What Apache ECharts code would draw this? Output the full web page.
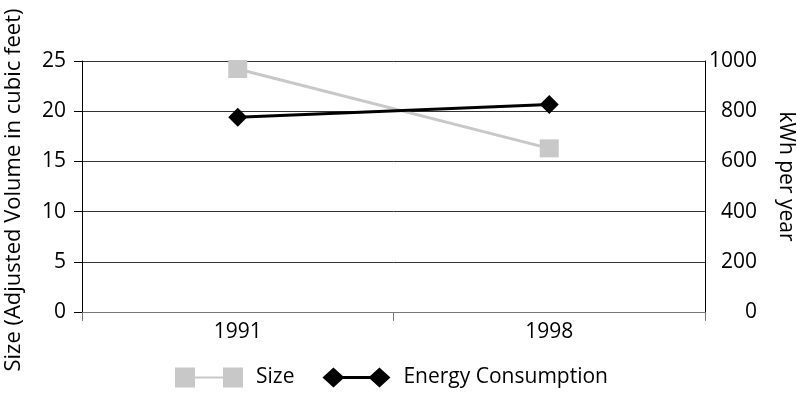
<!DOCTYPE html>
<html>
<head>
<meta charset="utf-8">
<script src="https://cdn.jsdelivr.net/npm/echarts@6/dist/echarts.min.js"></script>
<style>html,body{margin:0;padding:0;background:#fff}#c{width:797px;height:393px}</style>
</head>
<body>
<div id="c"></div>
<script>
var categories = ['1991', '1998'];
var sizeValues = [24.2, 16.3];
var energyValues = [776, 827];
var leftTicks = {min: 0, max: 25, interval: 5};
var rightTicks = {min: 0, max: 1000, interval: 200};

var FONT = 'Open Sans';
var FS = 21;
var chart = echarts.init(document.getElementById('c'));
chart.setOption({
  animation: false,
  backgroundColor: '#fff',
  textStyle: {fontFamily: FONT, color: '#000'},
  grid: {left: 82, right: 92, top: 61, bottom: 81, containLabel: false, outerBoundsMode: 'none'},
  legend: {
    left: 175, top: 367, padding: 0, itemWidth: 68, itemHeight: 20, itemGap: 28,
    symbolKeepAspect: false,
    textStyle: {fontFamily: FONT, fontSize: FS, color: '#000', padding: [0, 0, 0, 8]},
    data: [
      {name: 'Size', icon: 'path://M0 0 L20 0 L20 20 L0 20 Z M20 9 L48 9 L48 11 L20 11 Z M48 0 L68 0 L68 20 L48 20 Z'},
      {name: 'Energy Consumption', icon: 'path://M0 10 L11 0 L22 10 L11 20 Z M11 8.5 L57 8.5 L57 11.5 L11 11.5 Z M46 10 L57 0 L68 10 L57 20 Z'}
    ]
  },
  xAxis: {
    type: 'category', data: categories, boundaryGap: true,
    axisLine: {lineStyle: {color: '#777', width: 1}},
    axisTick: {show: true, length: 9, lineStyle: {color: '#777'}},
    axisLabel: {fontFamily: FONT, fontSize: FS, color: '#000', margin: 10},
    splitLine: {show: false}
  },
  yAxis: [
    {
      type: 'value', min: leftTicks.min, max: leftTicks.max, interval: leftTicks.interval,
      name: 'Size (Adjusted Volume in cubic feet)', nameLocation: 'middle', nameGap: 57,
      nameTextStyle: {fontFamily: FONT, fontSize: 22, color: '#000', padding: [0, 7, 0, 0]},
      axisLine: {show: true, lineStyle: {color: '#000', width: 1}},
      axisTick: {show: true, length: 8, lineStyle: {color: '#000'}},
      axisLabel: {fontFamily: FONT, fontSize: FS, color: '#000', margin: 16},
      splitLine: {show: true, lineStyle: {color: '#333', width: 1}}
    },
    {
      type: 'value', position: 'right', min: rightTicks.min, max: rightTicks.max, interval: rightTicks.interval,
      name: 'kWh per year', nameLocation: 'middle', nameGap: 70, nameRotate: -90,
      nameTextStyle: {fontFamily: FONT, fontSize: FS, color: '#000', padding: [0, 20, 0, 0]},
      axisLine: {show: true, lineStyle: {color: '#000', width: 1}},
      axisTick: {show: false},
      axisLabel: {fontFamily: FONT, fontSize: FS, color: '#000', margin: 52, align: 'right',
        formatter: function (v) { return String(v); }},
      splitLine: {show: false}
    }
  ],
  series: [
    {
      name: 'Size', type: 'line', yAxisIndex: 0, data: sizeValues,
      symbol: 'rect', symbolSize: [19, 18],
      lineStyle: {color: '#c8c8c8', width: 3},
      itemStyle: {color: '#c8c8c8'}
    },
    {
      name: 'Energy Consumption', type: 'line', yAxisIndex: 1, data: energyValues,
      symbol: 'diamond', symbolSize: 19,
      lineStyle: {color: '#000', width: 3},
      itemStyle: {color: '#000'}
    }
  ]
});
</script>
</body>
</html>
